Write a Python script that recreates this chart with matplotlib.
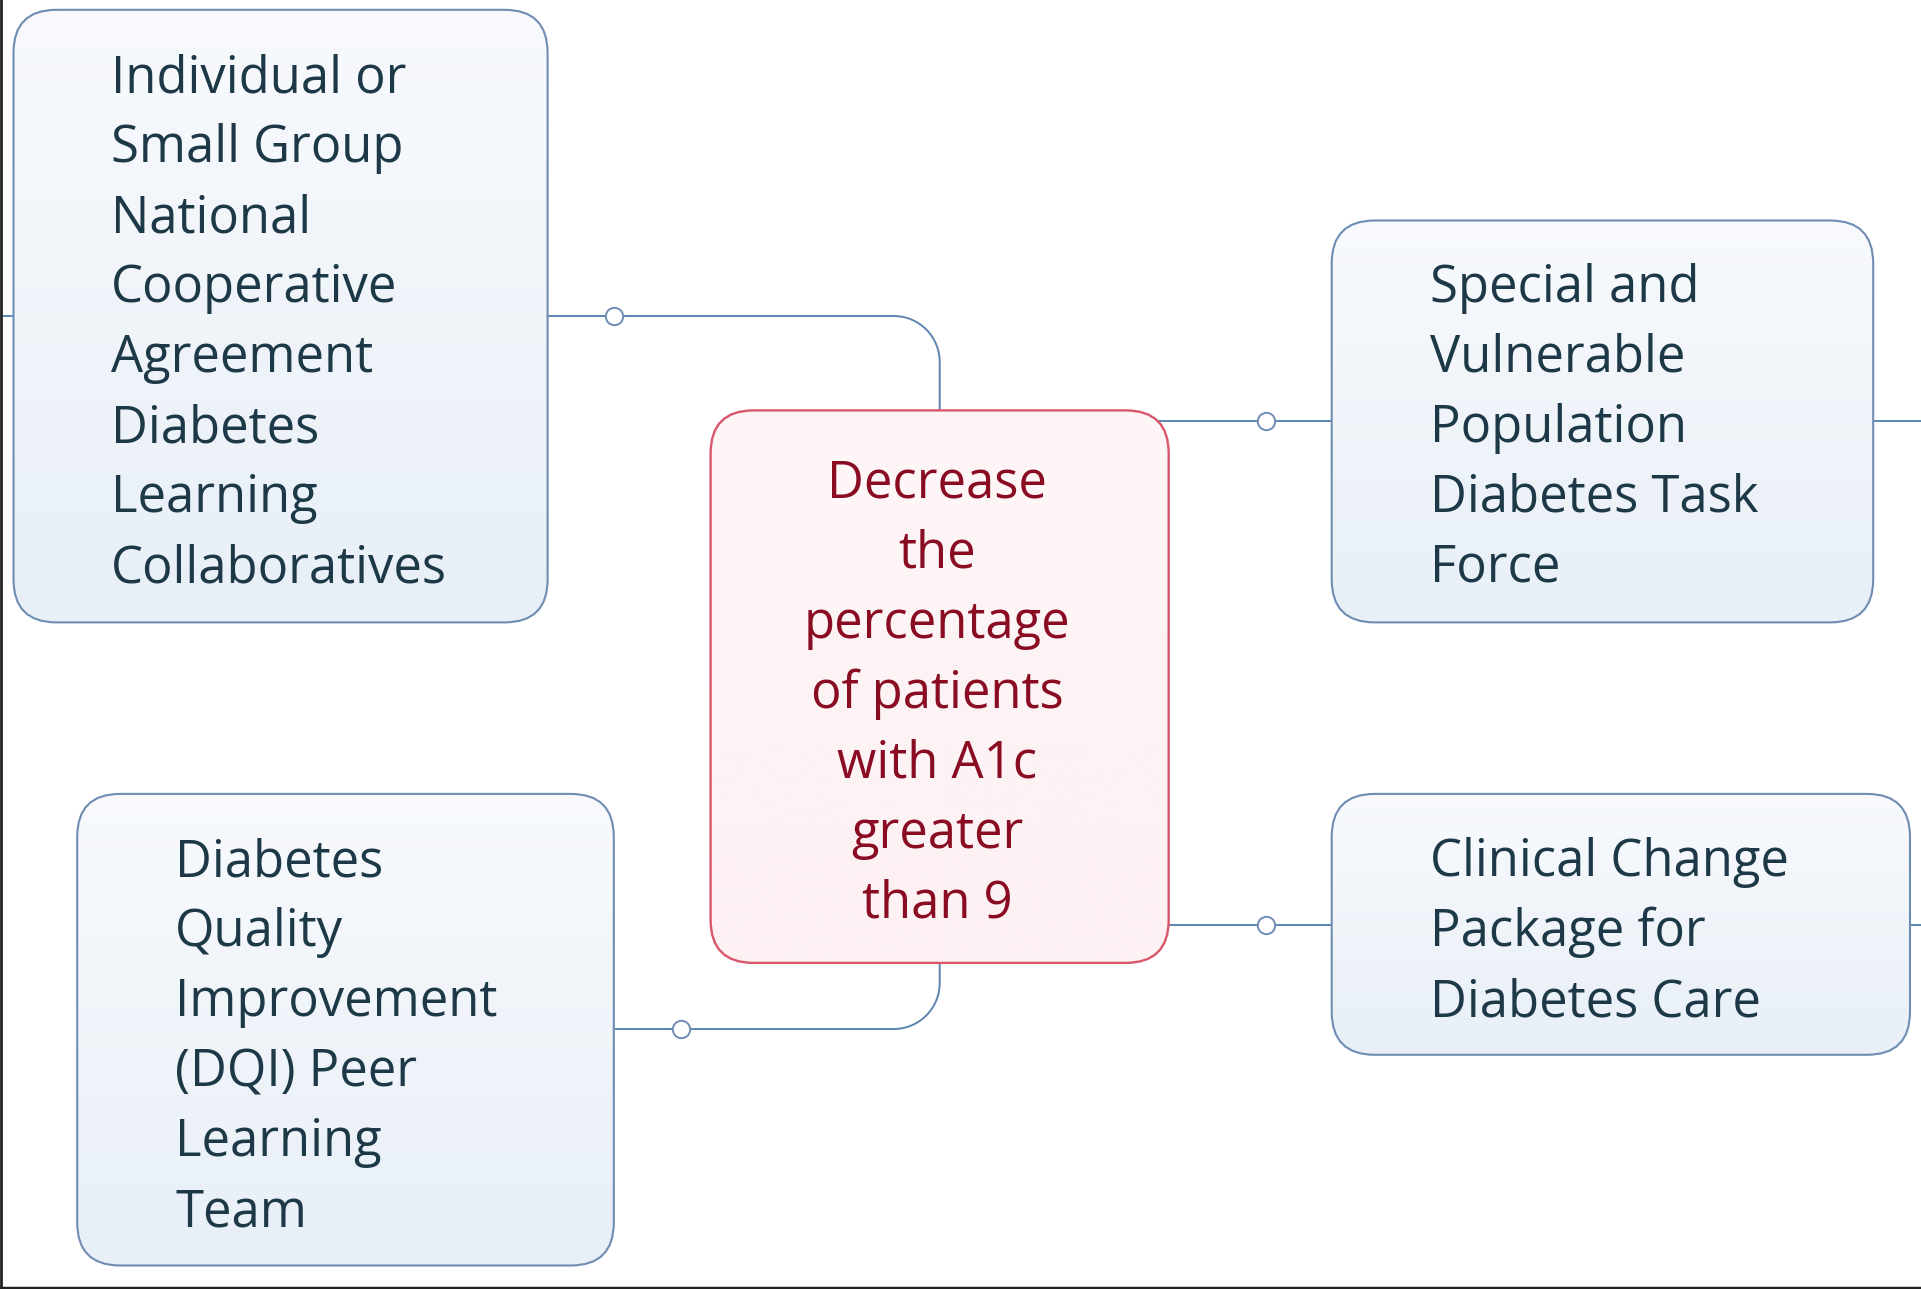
import numpy as np
import matplotlib
matplotlib.use("Agg")
import matplotlib.pyplot as plt
from matplotlib.patches import FancyBboxPatch, PathPatch
from matplotlib.path import Path
from matplotlib.colors import LinearSegmentedColormap

# ---------------- data (node texts) ----------------
center_lines = ["Decrease", "the", "percentage", "of patients", "with A1c", "greater", "than 9"]
topleft_lines = ["Individual or", "Small Group", "National", "Cooperative", "Agreement",
                 "Diabetes", "Learning", "Collaboratives"]
topright_lines = ["Special and", "Vulnerable", "Population", "Diabetes Task", "Force"]
bottomleft_lines = ["Diabetes", "Quality", "Improvement", "(DQI) Peer", "Learning", "Team"]
bottomright_lines = ["Clinical Change", "Package for", "Diabetes Care"]

# ---------------- layout (pixels) ----------------
W, H = 1921, 1289
LINE_STEP = 70
FONT = ["Open Sans", "DejaVu Sans"]
FS = 36.5

EDGE_BLUE = "#6f8db3"
LINE_BLUE = "#5c85b3"
TEXT_BLUE = "#1d3947"
FILL_TOP = "#f8fafd"
FILL_BOT = "#e8eff7"

fig = plt.figure(figsize=(W / 100, H / 100), dpi=100)
ax = fig.add_axes([0, 0, 1, 1])
ax.set_xlim(0, W)
ax.set_ylim(H, 0)
ax.axis("off")


def box(x0, y0, x1, y1, r, edge, ctop, cbot, lw=1.5):
    p = FancyBboxPatch((x0 + r, y0 + r), x1 - x0 - 2 * r, y1 - y0 - 2 * r,
                       boxstyle=f"round,pad={r}", facecolor="none",
                       edgecolor=edge, linewidth=lw, zorder=5)
    ax.add_patch(p)
    cmap = LinearSegmentedColormap.from_list("g", [ctop, cbot])
    grad = np.linspace(0, 1, 256).reshape(-1, 1)
    im = ax.imshow(grad, extent=(x0 - 2, x1 + 2, y1 + 2, y0 - 2), cmap=cmap,
                   aspect="auto", origin="upper", zorder=4, interpolation="bilinear")
    im.set_clip_path(p)


def lines_text(lines, x, y_first, color, ha="left"):
    for i, s in enumerate(lines):
        ax.text(x, y_first + 1.5 + i * LINE_STEP, s, ha=ha, va="baseline",
                fontsize=FS, color=color, family=FONT, zorder=6)


def hline(x0, x1, y):
    ax.plot([x0, x1], [y, y], color=LINE_BLUE, lw=1.4, zorder=2, solid_capstyle="butt")


def elbow(x_start, y_h, x_v, y_end, r):
    s = 1 if y_end > y_h else -1
    k = 0.5523 * r
    verts = [(x_start, y_h), (x_v - r, y_h),
             (x_v - r + k, y_h), (x_v, y_h + s * (r - k)), (x_v, y_h + s * r),
             (x_v, y_end)]
    codes = [Path.MOVETO, Path.LINETO, Path.CURVE4, Path.CURVE4, Path.CURVE4, Path.LINETO]
    ax.add_patch(PathPatch(Path(verts, codes), facecolor="none", edgecolor=LINE_BLUE,
                           lw=1.4, zorder=2))


def knob(x, y):
    ax.plot([x], [y], marker="o", ms=12.5, mfc="white", mec="#6f8db3", mew=1.4, zorder=3)


# boxes
B1 = (13.5, 9.8, 547.6, 622.4)
B2 = (1331.7, 220.5, 1873.2, 622.4)
B3 = (77.2, 793.9, 613.8, 1265.5)
B4 = (1331.7, 793.9, 1910.0, 1054.8)
BC = (710.6, 410.4, 1168.7, 962.9)
R = 43
XV = 939.7

# connectors
hline(0, B1[0], 316)
elbow(B1[2], 316, XV, BC[1] + 5, 46)
knob(613.8, 316)

elbow(B3[2], 1029, XV, BC[3] - 5, 46)
knob(681.2, 1029)

hline(XV, B2[0], 421.4)
knob(1265.5, 421.4)
hline(B2[2], W, 421.4)

hline(XV, B4[0], 925)
knob(1265.5, 925)
hline(B4[2], W, 925)

for b in (B1, B2, B3, B4):
    box(*b, R, EDGE_BLUE, FILL_TOP, FILL_BOT)
box(*BC, R, "#d9566b", "#fdf6f7", "#fdf1f3", lw=1.7)

# texts
lines_text(topleft_lines, 111, 90.7, TEXT_BLUE)
lines_text(topright_lines, 1430, 300.2, TEXT_BLUE)
lines_text(bottomleft_lines, 175, 874.7, TEXT_BLUE)
lines_text(bottomright_lines, 1430, 874.7, TEXT_BLUE)
lines_text(center_lines, 937, 496.2, "#8a0c22", ha="center")

# screenshot frame (left and bottom)
ax.plot([1, 1], [0, H], color="#222222", lw=2.0, zorder=10)
ax.plot([0, W], [1287.5, 1287.5], color="#222222", lw=2.5, zorder=10)

fig.savefig("out.png", dpi=100)
